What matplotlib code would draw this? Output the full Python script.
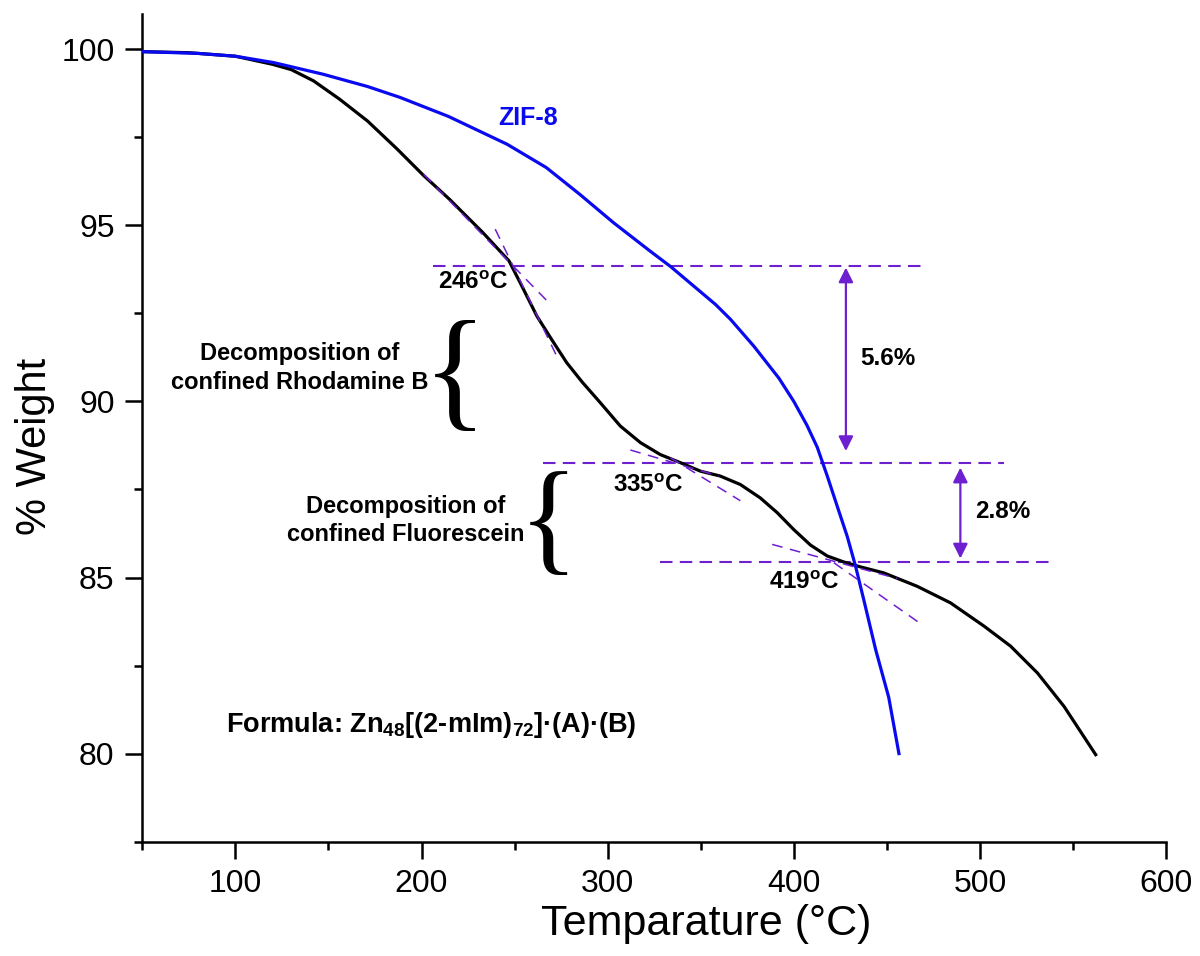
import matplotlib
matplotlib.use("Agg")
import matplotlib.pyplot as plt
import numpy as np

plt.rcParams.update({'font.family': 'Liberation Sans'})
plt.rcParams['mathtext.fontset'] = 'custom'
plt.rcParams['mathtext.rm'] = 'Liberation Sans:bold'
plt.rcParams['mathtext.it'] = 'Liberation Sans:bold'
plt.rcParams['mathtext.bf'] = 'Liberation Sans:bold'
plt.rcParams['mathtext.default'] = 'bf'

PURPLE = '#6e1fd0'
BLUE = '#0a0af0'

# --- data --- #
sample_t = [50, 75, 100, 120, 130, 142, 156, 171, 187, 201, 215, 233, 247, 253, 262,
            270, 278, 286.3, 296.1, 306.8, 317.6, 328.3, 339.1, 349.8, 360.5, 371.3,
            382, 391.1, 400, 409, 418, 426.9, 435.9, 448.4, 466.3, 484.2, 502.2, 516.5,
            530.9, 545.2, 562.2]
sample_w = [99.93, 99.9, 99.8, 99.57, 99.42, 99.10, 98.58, 97.96, 97.16, 96.42, 95.74,
            94.79, 93.99, 93.37, 92.42, 91.75, 91.10, 90.55, 89.96, 89.30, 88.83, 88.49,
            88.26, 88.02, 87.88, 87.64, 87.26, 86.84, 86.36, 85.92, 85.61, 85.44, 85.30,
            85.13, 84.75, 84.28, 83.62, 83.05, 82.29, 81.34, 79.97]

zif_t = [50, 80, 100, 120.5, 147, 171, 188.5, 214.5, 246, 267, 285, 303, 322, 334,
         358, 366, 378.5, 392, 400, 407, 412.6, 418, 423.3, 428.7, 433.2, 438, 444,
         451, 456.5]
zif_w = [99.93, 99.88, 99.8, 99.62, 99.29, 98.94, 98.63, 98.09, 97.30, 96.64, 95.88,
         95.08, 94.30, 93.82, 92.75, 92.33, 91.57, 90.66, 90.0, 89.33, 88.70, 87.88,
         87.03, 86.17, 85.32, 84.28, 82.95, 81.6, 80.0]

# onset levels (horizontal guides): level, x start, x end
onset_w = [93.84, 88.24, 85.45]
onset_x0 = [206, 265, 328]
onset_x1 = [469, 513, 537]

# tangent segments ((t0, w0), (t1, w1))
tangents = [
    ((201.1, 96.45), (269.2, 92.76)),
    ((239.6, 94.89), (273.7, 91.17)),
    ((312.2, 88.62), (359.7, 87.88)),
    ((333.7, 88.40), (371.3, 87.18)),
    ((388.4, 85.94), (455.6, 84.97)),
    ((421.5, 85.42), (468.1, 83.69)),
]

# weight-loss arrows: x, top, bottom, label
loss_x = [428, 489.5]
loss_top = [93.8, 88.12]
loss_bot = [88.59, 85.54]
loss_lbl = ['5.6%', '2.8%']

onset_lbl = ['246$^{o}$C', '335$^{o}$C', '419$^{o}$C']

fig = plt.figure(figsize=(12, 9.56), dpi=100)
ax = fig.add_axes([0.1186, 0.1196, 0.8531, 0.8658])

ax.plot(sample_t, sample_w, color='black', lw=2.3, zorder=3, solid_joinstyle='round')
ax.plot(zif_t, zif_w, color=BLUE, lw=2.3, zorder=3, solid_joinstyle='round')

for w, a, b in zip(onset_w, onset_x0, onset_x1):
    ax.plot([a, b], [w, w], color=PURPLE, lw=1.5, dashes=(6, 3.5), zorder=2)

for (p0, p1) in tangents:
    ax.plot([p0[0], p1[0]], [p0[1], p1[1]], color=PURPLE, lw=1.1, dashes=(7, 5), zorder=4)

for x, top, bot, lbl in zip(loss_x, loss_top, loss_bot, loss_lbl):
    ax.annotate('', xy=(x, bot), xytext=(x, top),
                arrowprops=dict(arrowstyle='<|-|>', color=PURPLE, lw=1.6,
                                mutation_scale=22, shrinkA=0, shrinkB=0))
    ax.text(x + 7.8, (top + bot) / 2 + 0.03, lbl, fontsize=17.5, fontweight='bold',
            va='center', ha='left')

for lbl, t, w in zip(onset_lbl, [228, 322, 405.5], [93.38, 87.62, 84.87]):
    ax.text(t, w, lbl, fontsize=17.5, fontweight='bold', ha='center', va='center')

ax.text(257, 98.04, 'ZIF-8', color=BLUE, fontsize=18, fontweight='bold',
        ha='center', va='center')

ax.text(134.8, 90.95, 'Decomposition of\nconfined Rhodamine B', fontsize=17,
        fontweight='bold', ha='center', va='center', linespacing=1.3)
ax.text(191.3, 86.61, 'Decomposition of\nconfined Fluorescein', fontsize=17,
        fontweight='bold', ha='center', va='center', linespacing=1.3)
ax.text(218.1, 90.98, '{', fontsize=96, family='Liberation Serif', ha='center',
        va='center_baseline')
ax.text(268.2, 86.8, '{', fontsize=89, family='Liberation Serif', ha='center',
        va='center_baseline')

ax.text(94.8, 80.8, 'Formula: Zn$_{48}$[(2-mIm)$_{72}$]·(A)·(B)', fontsize=19.5,
        fontweight='bold', ha='left', va='center')

ax.set_xlim(50, 600)
ax.set_ylim(77.5, 101)
ax.set_xticks([100, 200, 300, 400, 500, 600])
ax.set_xticks(np.arange(50, 601, 100), minor=True)
ax.set_yticks([80, 85, 90, 95, 100])
ax.set_yticks([77.5, 82.5, 87.5, 92.5, 97.5], minor=True)
ax.tick_params(which='major', direction='out', length=12, width=1.8, labelsize=23, pad=8)
ax.tick_params(which='minor', direction='out', length=6, width=1.8)
for s in ['top', 'right']:
    ax.spines[s].set_visible(False)
for s in ['left', 'bottom']:
    ax.spines[s].set_linewidth(1.8)

ax.set_xlabel('Temparature (°C)', fontsize=31)
ax.set_ylabel('% Weight', fontsize=30)
ax.xaxis.set_label_coords(0.551, -0.099)
ax.yaxis.set_label_coords(-0.105, 0.478)
ax.xaxis.label.set_va('center')
ax.yaxis.label.set_va('center')

plt.savefig('out.png', dpi=100)
